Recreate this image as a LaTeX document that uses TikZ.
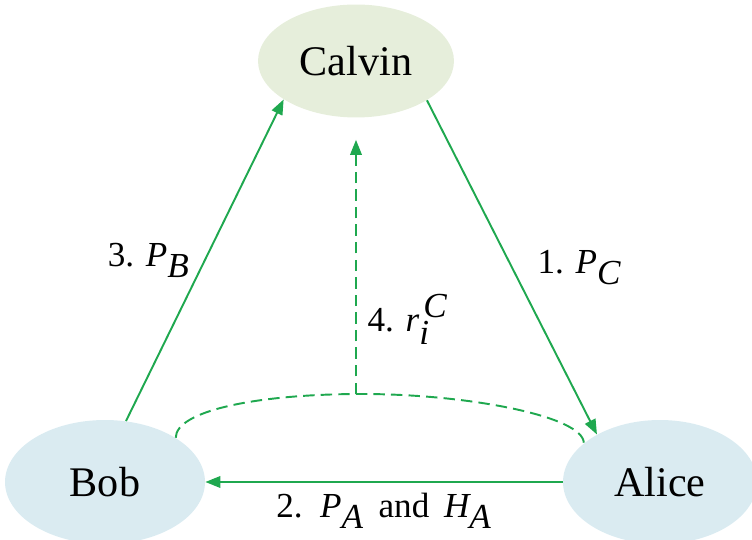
\documentclass[tikz,border=0pt]{standalone}
\usepackage{fontspec}
\setmainfont{Liberation Serif}
\usepackage{tikz}
\usetikzlibrary{arrows.meta, positioning, shapes.geometric}
\definecolor{Link}{HTML}{1FA84F}
\definecolor{SoftGreen}{HTML}{E6EEDB}
\definecolor{SoftBlue}{HTML}{DAEBF1}

\begin{document}
\begin{tikzpicture}[
  x=0.02cm, y=-0.02cm,
  party/.style={ellipse, draw=none, inner sep=0pt, font=\fontsize{24}{28}\selectfont},
  arrow/.style={-{Triangle[length=0.3cm, width=0.23cm]}, line width=1.1pt, draw=Link},
  dlink/.style={line width=1.1pt, draw=Link, dash pattern=on 6.5pt off 3.5pt},
  label/.style={font=\fontsize{20}{24}\selectfont, inner sep=2pt}
]
\useasboundingbox (0,0) rectangle (752,540);
\node[party, fill=SoftGreen, minimum width=3.92cm, minimum height=2.26cm] (calvin) at (356,61) {Calvin};
\node[party, fill=SoftBlue, minimum width=4.0cm, minimum height=2.48cm] (bob) at (105,482) {Bob};
\node[party, fill=SoftBlue, minimum width=3.88cm, minimum height=2.48cm] (alice) at (660,482) {Alice};

\draw[arrow] (calvin.331) -- node[label, midway, right=12pt] {1. $\textit{P}_{\textit{C}}$} (alice.143);
\draw[arrow] (alice.180) -- node[label, midway, below=4pt] {2. \,$\textit{P}_{\textit{A}}$\, and \,$\textit{H}_{\textit{A}}$} (bob.0);
\draw[arrow] (bob.71) -- node[label, midway, left=6pt] {3. $\textit{P}_{\textit{B}}$} (calvin.208);

% collection from both sides
\coordinate (top) at (362,394);
\draw[dlink] (bob.32) .. controls +(0,-27) and +(-105,0) .. (top) .. controls +(105,0) and +(0,-27) .. (alice.153);
\draw[dlink, -{Triangle[length=0.3cm, width=0.23cm]}, shorten >=0.44cm] (top -| calvin) -- node[label, pos=0.27, right=4pt] {4. $\textit{r}_{\textit{i}}^{\,\textit{C}}$} (calvin);
\end{tikzpicture}
\end{document}
